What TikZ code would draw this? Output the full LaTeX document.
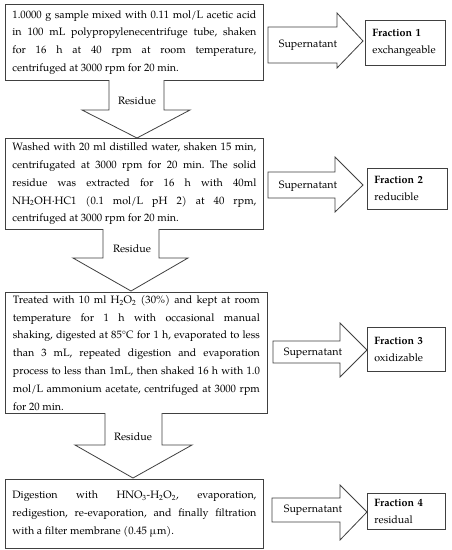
\documentclass[tikz,border=0pt]{standalone}
\usepackage{fontspec}
\setmainfont{TeX Gyre Pagella}
\frenchspacing
\begin{document}
\begin{tikzpicture}[x=1pt,y=-1pt,
  lw/.style={line width=0.8pt,draw=black!75},
  stepbox/.style={lw,anchor=north west,inner xsep=7pt,inner ysep=0pt,align=justify,
    font=\fontsize{10.7}{17.8}\selectfont\frenchspacing},
  fracbox/.style={lw,anchor=north west,inner xsep=7pt,inner ysep=0pt,align=left,
    font=\fontsize{10.7}{17}\selectfont},
  blk/.style={lw,fill=white,line join=miter},
  lbl/.style={font=\fontsize{10.7}{12}\selectfont,inner sep=0pt}]
\useasboundingbox (0,0) rectangle (452,550);
\fill[white] (0,0) rectangle (452,550);

% main step boxes
\node[stepbox,minimum width=258pt,minimum height=76pt,text width=244pt] (b1) at (5,4)
 {1.0000 g sample mixed with 0.11 mol/L acetic acid\linebreak
  in 100 mL polypropylenecentrifuge tube, shaken\linebreak
  for 16 h at 40 rpm at room temperature,\linebreak
  centrifuged at 3000 rpm for 20 min.};
\node[stepbox,minimum width=258pt,minimum height=91pt,text width=244pt] (b2) at (5,138)
 {Washed with 20 ml distilled water, shaken 15 min,\linebreak
  centrifugated at 3000 rpm for 20 min. The solid\linebreak
  residue was extracted for 16 h with 40ml\linebreak
  NH\textsubscript{2}OH·HC1 (0.1 mol/L pH 2) at 40 rpm,\linebreak
  centrifuged at 3000 rpm for 20 min.};
\node[stepbox,minimum width=262pt,minimum height=121pt,text width=247pt] (b3) at (5,292)
 {Treated with 10 ml H\textsubscript{2}O\textsubscript{2} (30\%) and kept at room\linebreak
  temperature for 1 h with occasional manual\linebreak
  shaking, digested at 85°C for 1 h, evaporated to less\linebreak
  than 3 mL, repeated digestion and evaporation\linebreak
  process to less than 1mL, then shaked 16 h with 1.0\linebreak
  mol/L ammonium acetate, centrifuged at 3000 rpm\linebreak
  for 20 min.};
\node[stepbox,minimum width=258pt,minimum height=69pt,text width=244pt] (b4) at (5,479)
 {Digestion with HNO\textsubscript{3}-H\textsubscript{2}O\textsubscript{2}, evaporation,\linebreak
  redigestion, re-evaporation, and finally filtration\linebreak
  with a filter membrane (0.45 µm).};

% fraction boxes
\node[fracbox,minimum width=80pt,minimum height=45pt,text width=66pt] (f1) at (365,20)
 {\textbf{Fraction 1}\\exchangeable};
\node[fracbox,minimum width=80pt,minimum height=41pt,text width=66pt] (f2) at (367,168)
 {\textbf{Fraction 2}\\reducible};
\node[fracbox,minimum width=78pt,minimum height=44pt,text width=64pt] (f3) at (367,327)
 {\textbf{Fraction 3}\\oxidizable};
\node[fracbox,minimum width=78pt,minimum height=36pt,text width=64pt] (f4) at (367,493)
 {\textbf{Fraction 4}\\residual};

% down block arrows (Residue)
\draw[blk] (109,80) -- (109,110) -- (82,110) -- (137,138) -- (190,110) -- (164,110) -- (164,80);
\draw[blk] (103,229) -- (103,258) -- (73,258) -- (131,291) -- (188,258) -- (159,258) -- (159,229);
\draw[blk] (105,413) -- (105,445) -- (75,445) -- (133,478) -- (192,445) -- (162,445) -- (162,413);
\node[lbl] (r1) at (137,101) {Residue};
\node[lbl] (r2) at (132,249) {Residue};
\node[lbl] (r3) at (133,437) {Residue};

% right block arrows (Supernatant)
\draw[blk] (268,27) -- (337,27) -- (337,13) -- (363,41) -- (337,68) -- (337,63) -- (268,63) -- cycle;
\draw[blk] (268,172) -- (335,172) -- (335,157) -- (363,185) -- (335,212) -- (335,198) -- (268,198) -- cycle;
\draw[blk] (273,341) -- (340,341) -- (340,323) -- (367,350) -- (340,377) -- (340,363) -- (273,363) -- cycle;
\draw[blk] (272,498) -- (340,498) -- (340,485) -- (367,512) -- (340,540) -- (340,522) -- (272,522) -- cycle;
\node[lbl] (s1) at (308,45) {Supernatant};
\node[lbl] (s2) at (308,186) {Supernatant};
\node[lbl] (s3) at (313,353) {Supernatant};
\node[lbl] (s4) at (313,510) {Supernatant};
\end{tikzpicture}
\end{document}
